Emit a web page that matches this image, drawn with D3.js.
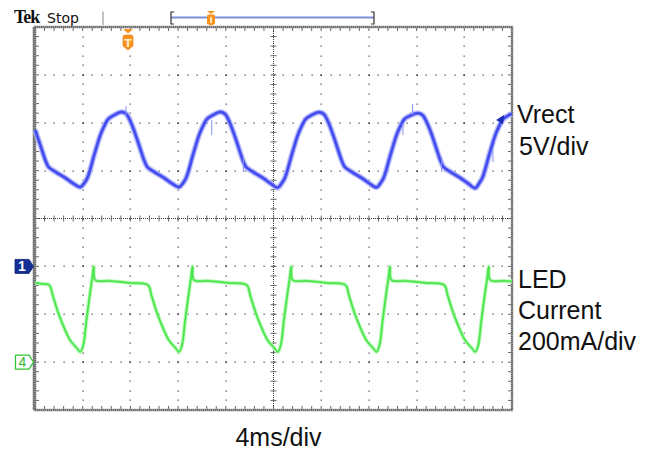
<!DOCTYPE html>
<html><head><meta charset="utf-8">
<script src="https://cdn.jsdelivr.net/npm/d3@7"></script>
<style>body{margin:0;background:#fff}svg{display:block}</style>
</head><body>
<script>
// ---- data ----
const timeDivLabel = "4ms/div";
const ch1Labels = ["Vrect", "5V/div"];
const ch4Labels = ["LED", "Current", "200mA/div"];

// Vrect trace: time (ms) and volts
const vrectTime = [0.00,0.13,0.55,0.89,1.14,1.73,2.56,3.15,
 3.80,4.14,4.39,4.64,4.89,5.14,5.48,5.81,6.15,6.65,7.24,7.66,7.99,8.41,8.83,9.17,9.42,10.01,10.84,11.43,
 12.08,12.42,12.67,12.92,13.17,13.42,13.76,14.09,14.43,14.93,15.52,15.94,16.27,16.69,17.11,17.45,17.70,18.29,19.12,19.71,
 20.36,20.70,20.95,21.20,21.45,21.70,22.04,22.37,22.71,23.21,23.80,24.22,24.55,24.97,25.39,25.73,25.98,26.57,27.40,27.99,
 28.64,28.98,29.23,29.48,29.73,29.98,30.32,30.65,30.99,31.49,32.08,32.50,32.83,33.25,33.67,34.01,34.26,34.85,35.68,36.27,
 36.92,37.26,37.51,37.76,38.01,38.26,38.60,38.93,39.27,39.77,40.00];
const vrectVolts = [14.25,13.83,12.26,11.01,10.38,9.86,9.23,8.71,
 8.29,8.71,9.23,10.17,11.32,12.37,13.72,14.67,15.40,15.81,16.13,15.92,15.19,13.83,12.26,11.01,10.38,9.86,9.23,8.71,
 8.29,8.71,9.23,10.17,11.32,12.37,13.72,14.67,15.40,15.81,16.13,15.92,15.19,13.83,12.26,11.01,10.38,9.86,9.23,8.71,
 8.22,8.71,9.23,10.17,11.32,12.37,13.72,14.67,15.40,15.81,16.10,15.90,15.19,13.83,12.26,11.01,10.38,9.86,9.23,8.71,
 8.25,8.71,9.23,10.17,11.32,12.37,13.72,14.67,15.40,15.75,16.00,15.80,15.10,13.83,12.26,11.01,10.38,9.86,9.23,8.71,
 8.18,8.71,9.23,10.17,11.32,12.37,13.72,14.67,15.40,15.81,15.92];
// short glitch spikes on Vrect: time, low V, high V
const glitchTime = [7.63,14.82,17.47,30.86,31.67,34.10,38.40];
const glitchLow  = [15.81,13.72,9.86,13.72,15.81,9.86,10.90];
const glitchHigh = [16.76,15.29,11.43,14.98,16.96,11.43,12.16];

// LED current trace: time (ms) and mA
const ledTime = [0.00,0.60,1.20,1.48,1.92,2.35,2.94,3.50,3.80,4.05,4.30,4.56,4.80,4.93,5.05,6.20,7.90,
 9.48,9.76,10.20,10.63,11.22,11.78,12.08,12.33,12.58,12.84,13.08,13.21,13.33,14.48,16.18,
 17.76,18.04,18.48,18.91,19.50,20.06,20.36,20.61,20.86,21.12,21.36,21.49,21.61,22.76,24.46,
 26.04,26.32,26.76,27.19,27.78,28.34,28.64,28.89,29.14,29.40,29.64,29.77,29.89,31.04,32.74,
 34.32,34.60,35.04,35.47,36.06,36.62,36.92,37.17,37.42,37.68,37.92,38.05,38.17,39.30,40.00];
const ledmA = [331,327,322,280,210,155,92,59,43,71,169,268,351,399,343,339,331,
 322,280,210,155,92,59,43,71,169,268,351,399,343,339,331,
 322,280,210,155,92,59,43,71,169,268,351,399,343,339,331,
 322,280,210,155,92,59,43,71,169,268,351,399,343,339,331,
 322,280,210,155,92,59,43,71,169,268,351,399,343,339,337];

const ch1Ground = 0;   // V, marker "1"
const ch4Ground = 0;   // mA, marker "4"
const triggerTime = 7.8; // ms, orange T marker

// ---- layout ----
const W = 655, H = 452;
const X0 = 35, X1 = 512, Y0 = 27, Y1 = 410;
const NX = 10, NY = 8;
const divW = (X1 - X0) / NX, divH = (Y1 - Y0) / NY;

const svg = d3.select("body").append("svg").attr("width", W).attr("height", H);

const x = d3.scaleLinear().domain([0, 40]).range([X0, X1]);
const yV = d3.scaleLinear().domain([-15, 25]).range([Y1, Y0]);     // 5 V/div, ground at -1 div
const yI = d3.scaleLinear().domain([-200, 1400]).range([Y1, Y0]);  // 200 mA/div, ground at -3 div

// ---- graticule ----
const g = svg.append("g");
for (let i = 1; i < NX; i++) {
  if (i === 5) continue;
  const gx = X0 + i * divW;
  for (let k = 1; k < NY * 5; k++) {
    g.append("rect").attr("x", Math.round(gx) - 0.5).attr("y", Math.round(Y0 + k * divH / 5) - 0.5)
      .attr("width", 1.3).attr("height", 1.3).attr("fill", k % 5 === 0 ? "#222" : "#555");
  }
}
for (let j = 1; j < NY; j++) {
  if (j === 4) continue;
  const gy = Y0 + j * divH;
  for (let k = 1; k < NX * 5; k++) {
    g.append("rect").attr("x", Math.round(X0 + k * divW / 5) - 0.5).attr("y", Math.round(gy) - 0.5)
      .attr("width", 1.3).attr("height", 1.3).attr("fill", k % 5 === 0 ? "#222" : "#555");
  }
}
const cx = X0 + 5 * divW, cy = Y0 + 4 * divH;
g.append("line").attr("x1", X0).attr("x2", X1).attr("y1", cy).attr("y2", cy)
  .attr("stroke", "#333").attr("stroke-width", 1).attr("stroke-dasharray", "1,1");
g.append("line").attr("x1", cx).attr("x2", cx).attr("y1", Y0).attr("y2", Y1)
  .attr("stroke", "#333").attr("stroke-width", 1).attr("stroke-dasharray", "1,1");
for (let k = 1; k < NX * 5; k++) {
  const tx = X0 + k * divW / 5;
  g.append("line").attr("x1", tx).attr("x2", tx).attr("y1", cy - 3).attr("y2", cy + 3)
    .attr("stroke", "#666").attr("stroke-width", 1);
  g.append("line").attr("x1", tx).attr("x2", tx).attr("y1", Y1 - 4).attr("y2", Y1)
    .attr("stroke", "#666").attr("stroke-width", 1);
  g.append("line").attr("x1", tx).attr("x2", tx).attr("y1", Y0).attr("y2", Y0 + 4)
    .attr("stroke", "#666").attr("stroke-width", 1);
}
for (let k = 1; k < NY * 5; k++) {
  const ty = Y0 + k * divH / 5;
  g.append("line").attr("x1", cx - 3).attr("x2", cx + 3).attr("y1", ty).attr("y2", ty)
    .attr("stroke", "#666").attr("stroke-width", 1);
  g.append("line").attr("x1", X0).attr("x2", X0 + 4).attr("y1", ty).attr("y2", ty)
    .attr("stroke", "#666").attr("stroke-width", 1);
  g.append("line").attr("x1", X1 - 4).attr("x2", X1).attr("y1", ty).attr("y2", ty)
    .attr("stroke", "#666").attr("stroke-width", 1);
}
g.append("rect").attr("x", X0).attr("y", Y0).attr("width", X1 - X0).attr("height", Y1 - Y0)
  .attr("fill", "none").attr("stroke", "#999").attr("stroke-width", 2.5);
g.append("rect").attr("x", X0).attr("y", Y0).attr("width", X1 - X0).attr("height", Y1 - Y0)
  .attr("fill", "none").attr("stroke", "#444").attr("stroke-width", 1.2).attr("stroke-dasharray", "1,1");
g.append("line").attr("x1", X0 - 1.5).attr("x2", X0 - 1.5).attr("y1", Y0).attr("y2", Y1)
  .attr("stroke", "#777").attr("stroke-width", 1.5);

// ---- traces ----
const curve = d3.curveCatmullRom.alpha(0.5);
const vData = vrectTime.map((t, i) => [t, vrectVolts[i]]);
const iData = ledTime.map((t, i) => [t, ledmA[i]]);
const lineV = d3.line().x(d => x(d[0])).y(d => yV(d[1])).curve(curve);
const lineI = d3.line().x(d => x(d[0])).y(d => yI(d[1])).curve(curve);

const tr = svg.append("g");
tr.append("path").attr("d", lineV(vData)).attr("fill", "none").attr("stroke", "#b4b9f8").attr("stroke-width", 6).attr("stroke-opacity", 0.75);
tr.append("path").attr("d", lineV(vData)).attr("fill", "none").attr("stroke", "#6068f2").attr("stroke-width", 3.4);
tr.append("path").attr("d", lineV(vData)).attr("fill", "none").attr("stroke", "#3c42ec").attr("stroke-width", 1.3);
glitchTime.forEach((t, i) => {
  tr.append("line").attr("x1", x(t)).attr("x2", x(t)).attr("y1", yV(glitchLow[i])).attr("y2", yV(glitchHigh[i]))
    .attr("stroke", "#8890f4").attr("stroke-width", 1);
});

tr.append("path").attr("d", lineI(iData)).attr("fill", "none").attr("stroke", "#bdf8bd").attr("stroke-width", 4.2).attr("stroke-opacity", 0.8);
tr.append("path").attr("d", lineI(iData)).attr("fill", "none").attr("stroke", "#70ee70").attr("stroke-width", 2.3);
tr.append("path").attr("d", lineI(iData)).attr("fill", "none").attr("stroke", "#40e440").attr("stroke-width", 1);

// small blue arrow at right end of Vrect trace
const ax = x(39.0), ay = yV(15.3);
svg.append("path").attr("d", `M${ax - 4},${ay} L${ax + 4},${ay - 5} L${ax + 3},${ay + 4} Z`).attr("fill", "#1c2bb5");

// ---- channel markers ----
const m1y = yV(ch1Ground);
svg.append("path").attr("d", `M15,${m1y - 7} L29,${m1y - 7} L33.5,${m1y} L29,${m1y + 7} L15,${m1y + 7} Z`)
  .attr("fill", "#142f96").attr("stroke", "#0c1f70").attr("stroke-width", 0.8);
svg.append("text").attr("x", 22).attr("y", m1y + 5).attr("text-anchor", "middle")
  .attr("font-family", "Liberation Sans, Arial, sans-serif").attr("font-weight", "bold").attr("font-size", 14)
  .attr("fill", "#fff").text("1");
const m4y = yI(ch4Ground);
svg.append("path").attr("d", `M15.5,${m4y - 7} L29,${m4y - 7} L33.5,${m4y} L29,${m4y + 7} L15.5,${m4y + 7} Z`)
  .attr("fill", "#fff").attr("stroke", "#2fc42f").attr("stroke-width", 1.2);
svg.append("text").attr("x", 22.5).attr("y", m4y + 5).attr("text-anchor", "middle")
  .attr("font-family", "Liberation Sans, Arial, sans-serif").attr("font-size", 14)
  .attr("fill", "#2fb82f").text("4");

// ---- trigger marker ----
const tx = x(triggerTime);
svg.append("path").attr("d", `M${tx - 5},29 L${tx + 5},29 L${tx},33.5 Z`).attr("fill", "#f7941d");
svg.append("path").attr("d", `M${tx - 5},37 Q${tx - 5},35 ${tx - 3},35 L${tx + 3},35 Q${tx + 5},35 ${tx + 5},37 L${tx + 5},46 L${tx},50 L${tx - 5},46 Z`)
  .attr("fill", "#f7941d").attr("stroke", "#e5780f").attr("stroke-width", 0.6);
svg.append("text").attr("x", tx).attr("y", 46.5).attr("text-anchor", "middle")
  .attr("font-family", "DejaVu Sans, sans-serif").attr("font-weight", "bold").attr("font-size", 11)
  .attr("fill", "#ffe9c8").text("T");

// ---- top status bar ----
svg.append("text").attr("x", 14).attr("y", 23).attr("font-family", "Liberation Serif, serif")
  .attr("font-weight", "bold").attr("font-size", 18).attr("letter-spacing", -1).attr("fill", "#111").text("Tek");
svg.append("text").attr("x", 47).attr("y", 22.5).attr("font-family", "DejaVu Sans, sans-serif")
  .attr("font-size", 14).attr("fill", "#111").text("Stop");
svg.append("line").attr("x1", 103).attr("x2", 103).attr("y1", 11.5).attr("y2", 25)
  .attr("stroke", "#999").attr("stroke-width", 1.2);
const bL = 171, bR = 374;
svg.append("line").attr("x1", bL).attr("x2", bR).attr("y1", 17.5).attr("y2", 17.5)
  .attr("stroke", "#7d8fd8").attr("stroke-width", 2);
svg.append("path").attr("d", `M${bL + 3},12 L${bL},12 L${bL},24 L${bL + 3},24`).attr("fill", "none").attr("stroke", "#333").attr("stroke-width", 1.2);
svg.append("path").attr("d", `M${bR - 3},12 L${bR},12 L${bR},24 L${bR - 3},24`).attr("fill", "none").attr("stroke", "#333").attr("stroke-width", 1.2);
const bx = 211;
svg.append("path").attr("d", `M${bx - 4},11 L${bx + 4},11 L${bx},14 Z`).attr("fill", "#f7941d");
svg.append("path").attr("d", `M${bx - 4},16 Q${bx - 4},14.5 ${bx - 2.5},14.5 L${bx + 2.5},14.5 Q${bx + 4},14.5 ${bx + 4},16 L${bx + 4},24 L${bx},25.5 L${bx - 4},24 Z`)
  .attr("fill", "#f7941d");
svg.append("rect").attr("x", bx - 1).attr("y", 17).attr("width", 2).attr("height", 6).attr("fill", "#ffe3bf");

// ---- labels ----
const lf = "Liberation Sans, Arial, sans-serif";
const fs = 25;
svg.append("text").attr("x", 517).attr("y", 122.5).attr("font-family", lf).attr("font-size", fs).attr("fill", "#111").text(ch1Labels[0]);
svg.append("text").attr("x", 519).attr("y", 155).attr("font-family", lf).attr("font-size", fs).attr("fill", "#111").text(ch1Labels[1]);
svg.append("text").attr("x", 518).attr("y", 288).attr("font-family", lf).attr("font-size", fs).attr("fill", "#111").text(ch4Labels[0]);
svg.append("text").attr("x", 518).attr("y", 319).attr("font-family", lf).attr("font-size", fs).attr("fill", "#111").text(ch4Labels[1]);
svg.append("text").attr("x", 518).attr("y", 349.5).attr("font-family", lf).attr("font-size", fs).attr("fill", "#111").text(ch4Labels[2]);
svg.append("text").attr("x", 278.5).attr("y", 446).attr("text-anchor", "middle").attr("font-family", lf).attr("font-size", fs).attr("fill", "#111").text(timeDivLabel);
</script>
</body></html>
